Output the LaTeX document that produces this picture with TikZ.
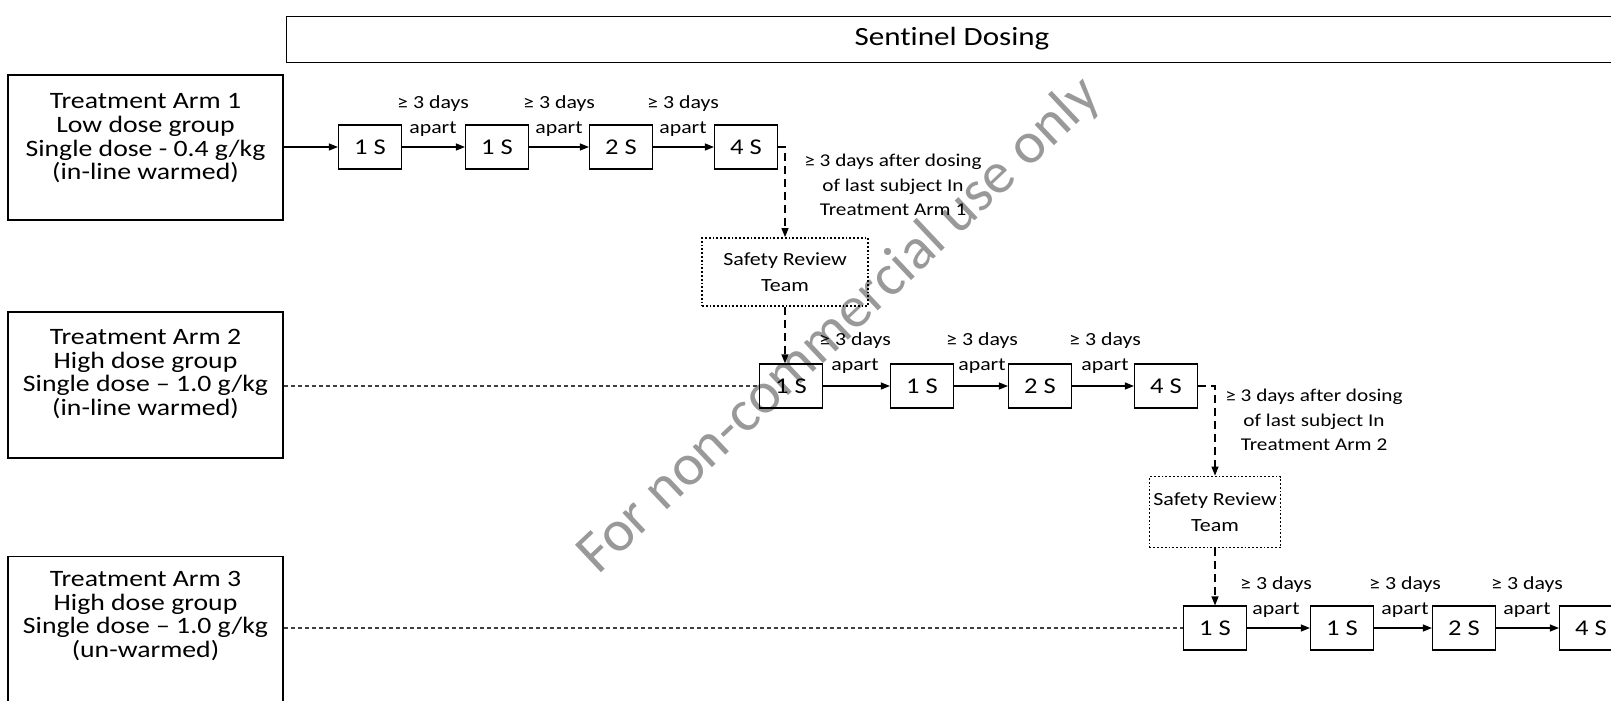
\documentclass[tikz,border=0pt]{standalone}
\usepackage{fontspec}
\setmainfont{Carlito}[Ligatures=NoCommon]
\newfontfamily\wfont{Carlito}[Ligatures=NoCommon, FakeStretch=1.18]
\usetikzlibrary{arrows.meta,positioning}
\tikzset{
  plainbox/.style={draw, line width=1.3pt, minimum width=275pt, inner sep=0pt},
  armtext/.style={align=center, inner sep=0pt, font=\wfont\fontsize{23.5}{23.7}\selectfont},
  sbox/.style={draw, line width=1.2pt, minimum width=63pt, minimum height=44pt, inner sep=0pt, font=\wfont\fontsize{22.5}{22}\selectfont},
  srtbox/.style={draw, line width=1.8pt, dotted, align=center, inner sep=0pt, font=\wfont\fontsize{18.6}{26}\selectfont},
  gap/.style={align=center, inner sep=0pt, font=\wfont\fontsize{18.5}{25}\selectfont},
  note/.style={align=center, inner sep=0pt, font=\wfont\fontsize{18}{24.3}\selectfont},
  arr/.style={line width=1.2pt, -{Triangle[length=9pt,width=7pt]}},
  darr/.style={line width=1.2pt, dash pattern=on 8pt off 5pt, -{Triangle[length=9pt,width=7pt]}},
  dline/.style={line width=1.2pt, black!75, dash pattern=on 4pt off 3pt},
}
\begin{document}
\begin{tikzpicture}[x=1pt,y=-1pt]
\useasboundingbox (0,0) rectangle (1611,701);
% watermark
\node[text=black!40, rotate=43.3, font=\fontsize{59}{59}\selectfont, inner sep=0pt] (wm) at (840,326) {For non-commercial use only};
% banner
\node[draw, line width=1.2pt, minimum width=1340pt, minimum height=46pt, anchor=north west, inner sep=0pt] (banner) at (286,16) {};
\node[font=\wfont\fontsize{26.3}{26.3}\selectfont, inner sep=0pt] (bannertext) at (952,39) {Sentinel Dosing};
% arms
\node[plainbox, minimum height=145pt] (arm1) at (145.5,147.5) {};
\node[armtext] (arm1text) at (145.5,138.5) {Treatment Arm 1\\Low dose group\\Single dose - 0.4 g/kg\\(in-line warmed)};
\node[plainbox, minimum height=146pt] (arm2) at (145.5,385) {};
\node[armtext] (arm2text) at (145.5,374) {Treatment Arm 2\\High dose group\\Single dose – 1.0 g/kg\\(in-line warmed)};
\node[plainbox, minimum height=170pt, anchor=north] (arm3) at (145.5,556) {};
\node[armtext] (arm3text) at (145.5,616) {Treatment Arm 3\\High dose group\\Single dose – 1.0 g/kg\\(un-warmed)};
% row 1
\node[sbox] (r1a) at (370,147) {1 S};
\node[sbox] (r1b) at (497,147) {1 S};
\node[sbox] (r1c) at (621,147) {2 S};
\node[sbox] (r1d) at (746,147) {4 S};
% row 2
\node[sbox] (r2a) at (791,386) {1 S};
\node[sbox] (r2b) at (922,386) {1 S};
\node[sbox] (r2c) at (1040,386) {2 S};
\node[sbox] (r2d) at (1166,386) {4 S};
% row 3
\node[sbox] (r3a) at (1215,628) {1 S};
\node[sbox] (r3b) at (1342,628) {1 S};
\node[sbox] (r3c) at (1464,628) {2 S};
\node[sbox] (r3d) at (1591,628) {4 S};
% safety review
\node[srtbox, minimum width=166pt, minimum height=68pt] (srt1) at (785,272) {Safety Review\\Team};
\node[srtbox, minimum width=131pt, minimum height=71pt] (srt2) at (1215,512) {Safety Review\\Team};
% notes
\node[note] (n1) at (893,185) {≥ 3 days after dosing\\of last subject In\\Treatment Arm 1};
\node[note] (n2) at (1314,420) {≥ 3 days after dosing\\of last subject In\\Treatment Arm 2};
% gap labels
\node[gap] (g1a) at (433,116) {≥ 3 days\\apart};
\node[gap] (g1b) at (559,116) {≥ 3 days\\apart};
\node[gap] (g1c) at (683,116) {≥ 3 days\\apart};
\node[gap] (g2a) at (855,353) {≥ 3 days\\apart};
\node[gap] (g2b) at (982,353) {≥ 3 days\\apart};
\node[gap] (g2c) at (1105,353) {≥ 3 days\\apart};
\node[gap] (g3a) at (1276,597) {≥ 3 days\\apart};
\node[gap] (g3b) at (1405,597) {≥ 3 days\\apart};
\node[gap] (g3c) at (1527,597) {≥ 3 days\\apart};
% connectors
\draw[arr] (arm1.east |- r1a.west) -- (r1a.west);
\draw[arr] (r1a) -- (r1b);
\draw[arr] (r1b) -- (r1c);
\draw[arr] (r1c) -- (r1d);
\draw[arr] (r2a) -- (r2b);
\draw[arr] (r2b) -- (r2c);
\draw[arr] (r2c) -- (r2d);
\draw[arr] (r3a) -- (r3b);
\draw[arr] (r3b) -- (r3c);
\draw[arr] (r3c) -- (r3d);
\draw[dline] (arm2.east |- r2a.west) -- (r2a.west);
\draw[dline] (arm3.east |- r3a.west) -- (r3a.west);
\draw[darr] (r1d.east) -| (srt1.north);
\draw[darr] (srt1.south) -- (srt1.south |- r2a.north);
\draw[darr] (r2d.east) -| (srt2.north);
\draw[darr] (srt2.south) -- (r3a.north);
\end{tikzpicture}
\end{document}
